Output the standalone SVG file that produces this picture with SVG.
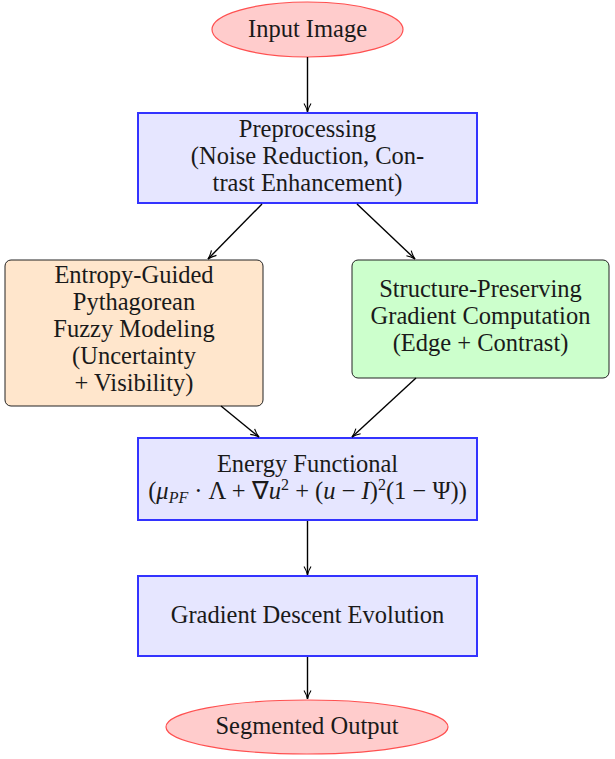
<svg xmlns="http://www.w3.org/2000/svg" width="615" height="759" viewBox="0 0 615 759">
<defs>
<marker id="arr" viewBox="0 0 10 10" refX="9.5" refY="5" markerWidth="10" markerHeight="10" markerUnits="userSpaceOnUse" orient="auto">
<path d="M1,1.5 Q5,4 9.5,5 Q5,6 1,8.5" fill="none" stroke="#000" stroke-width="1.1"/>
</marker>
</defs>
<style>
text{font-family:"Liberation Serif","Times New Roman",serif;font-size:24.5px;fill:#1a1a1a;text-anchor:middle}
.ell{fill:#ffcccc;stroke:#ff5050;stroke-width:1.2}
.blue{fill:#e6e6ff;stroke:#3333ff;stroke-width:2}
.orange{fill:#ffe6cc;stroke:#222;stroke-width:1}
.green{fill:#ccffcc;stroke:#222;stroke-width:1}
.conn line{stroke:#000;stroke-width:1.4;marker-end:url(#arr)}
.it{font-style:italic}
</style>
<g id="input">
<ellipse class="ell" cx="307.5" cy="29.5" rx="95.5" ry="27.5"/>
<text x="307.5" y="37">Input Image</text>
</g>
<g id="preprocessing">
<rect class="blue" x="138" y="113" width="339" height="90"/>
<text x="307.5" y="137">Preprocessing</text>
<text x="307.5" y="164">(Noise Reduction, Con-</text>
<text x="307.5" y="191">trast Enhancement)</text>
</g>
<g id="entropy">
<rect class="orange" x="5" y="260" width="258" height="146" rx="6"/>
<text x="134" y="283">Entropy-Guided</text>
<text x="134" y="310">Pythagorean</text>
<text x="134" y="337">Fuzzy Modeling</text>
<text x="134" y="364">(Uncertainty</text>
<text x="134" y="391">+ Visibility)</text>
</g>
<g id="structure">
<rect class="green" x="352" y="260" width="257" height="118" rx="6"/>
<text x="480.5" y="297">Structure-Preserving</text>
<text x="480.5" y="324">Gradient Computation</text>
<text x="480.5" y="351">(Edge + Contrast)</text>
</g>
<g id="energy">
<rect class="blue" x="138" y="438" width="339" height="82"/>
<text x="307.5" y="472">Energy Functional</text>
<text x="307.5" y="499">(<tspan class="it">μ</tspan><tspan class="it" font-size="16" dy="4">PF</tspan><tspan dy="-4"> · Λ + ∇</tspan><tspan class="it">u</tspan><tspan font-size="16" dy="-9">2</tspan><tspan dy="9"> + (</tspan><tspan class="it">u</tspan> − <tspan class="it">I</tspan>)<tspan font-size="16" dy="-9">2</tspan><tspan dy="9">(1 − Ψ))</tspan></text>
</g>
<g id="gradient">
<rect class="blue" x="138" y="576" width="339" height="80"/>
<text x="307.5" y="623">Gradient Descent Evolution</text>
</g>
<g id="output">
<ellipse class="ell" cx="307" cy="727" rx="141" ry="27"/>
<text x="307" y="734">Segmented Output</text>
</g>
<g class="conn" id="connectors">
<line x1="307.5" y1="57" x2="307.5" y2="112"/>
<line x1="262" y1="204" x2="208" y2="259"/>
<line x1="357" y1="204" x2="415" y2="259"/>
<line x1="221" y1="406" x2="259" y2="437"/>
<line x1="416" y1="378" x2="352" y2="437"/>
<line x1="307.5" y1="521" x2="307.5" y2="575"/>
<line x1="307.5" y1="657" x2="307.5" y2="699"/>
</g>
</svg>
